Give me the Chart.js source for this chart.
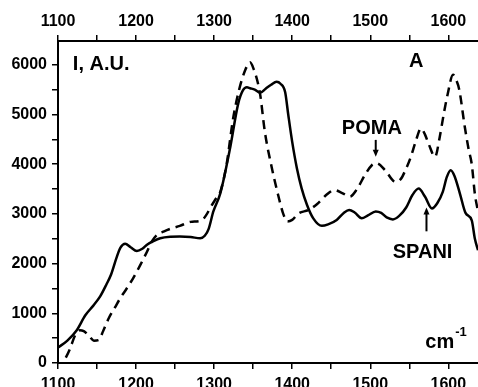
<!DOCTYPE html>
<html>
<head>
<meta charset="utf-8">
<script src="https://cdn.jsdelivr.net/npm/chart.js@4"></script>
<style>
  html, body { margin: 0; padding: 0; background: #fff; }
  #wrap { width: 478px; height: 387px; }
</style>
</head>
<body>
<div id="wrap"><canvas id="ramanChart"></canvas></div>
<script>
// Raman spectra, SPANI (solid) and POMA (dashed)
const spaniX = [1100, 1112, 1124, 1135, 1145, 1154, 1162, 1168, 1175, 1180, 1186, 1193, 1201, 1208, 1214, 1222,
  1231, 1244, 1256, 1270, 1282, 1288, 1293, 1299, 1308, 1320, 1331, 1337, 1342, 1346, 1352, 1359, 1366, 1373,
  1380, 1385, 1391, 1395, 1400, 1406, 1412, 1419, 1427, 1438, 1446, 1457, 1466, 1473, 1480, 1489, 1497, 1507,
  1514, 1521, 1529, 1537, 1546, 1554, 1562, 1570, 1579, 1586, 1593, 1598, 1603, 1608, 1615, 1622, 1630, 1634, 1638];
const spaniY = [310, 450, 660, 960, 1150, 1340, 1580, 1780, 2120, 2320, 2400, 2330, 2255, 2300, 2380, 2450,
  2510, 2540, 2545, 2535, 2510, 2560, 2700, 3050, 3420, 4290, 5230, 5490, 5550, 5530, 5500, 5440, 5520, 5600,
  5660, 5620, 5450, 4990, 4450, 3920, 3520, 3180, 2910, 2760, 2790, 2880, 3020, 3080, 3030, 2915, 2970, 3050,
  3020, 2930, 2890, 2960, 3130, 3380, 3510, 3350, 3110, 3220, 3450, 3740, 3880, 3760, 3400, 3020, 2870, 2500, 2270];

const pomaX = [1100, 1108, 1115, 1122, 1128, 1133, 1140, 1146, 1152, 1158, 1165, 1173, 1180, 1188, 1196, 1205,
  1214, 1220, 1227, 1236, 1244, 1256, 1270, 1284, 1290, 1296, 1302, 1308, 1316, 1324, 1332, 1340, 1346, 1351,
  1355, 1359, 1365, 1374, 1382, 1389, 1394, 1400, 1408, 1421, 1432, 1445, 1454, 1464, 1474, 1483, 1493, 1502,
  1508, 1519, 1532, 1539, 1545, 1552, 1558, 1565, 1570, 1575, 1583, 1589, 1594, 1599, 1606, 1610, 1614, 1621,
  1626, 1630, 1634, 1638];
const pomaY = [-150, 50, 270, 560, 660, 640, 540, 450, 460, 650, 900, 1120, 1310, 1500, 1700, 1960,
  2240, 2440, 2580, 2650, 2700, 2760, 2840, 2870, 2980, 3150, 3300, 3450, 4000, 4890, 5500, 5900, 6050, 5900,
  5700, 5400, 4650, 3920, 3380, 2980, 2850, 2880, 3010, 3080, 3200, 3400, 3480, 3420, 3350, 3500, 3780, 3980,
  4020, 3880, 3650, 3700, 3880, 4150, 4450, 4720, 4600, 4400, 4150, 4550, 5000, 5400, 5800, 5700, 5500, 4760,
  4300, 4000, 3400, 3050];

// tick positions (labels only on the round ones)
const xTickValues = [1100, 1150, 1200, 1250, 1300, 1350, 1400, 1450, 1500, 1550, 1600];
const yTickValues = [0, 500, 1000, 1500, 2000, 2500, 3000, 3500, 4000, 4500, 5000, 5500, 6000];

const xMin = 1100, xMax = 1638;
const yMin = 0, yMax = 6480;

const FONT = "'Liberation Sans', Arial, sans-serif";
Chart.defaults.font.family = FONT;
Chart.defaults.font.weight = 'bold';
Chart.defaults.font.size = 16;
Chart.defaults.color = '#000';

function toPoints(xs, ys) {
  return xs.map((x, i) => ({ x: x, y: ys[i] }));
}

// text labels and arrows, placed in data units
const notes = [
  { text: 'I, A.U.', x: 1119, y: 6000, align: 'left' },
  { text: 'A', x: 1559, y: 6060, align: 'center' },
  { text: 'POMA', x: 1502, y: 4710, align: 'center' },
  { text: 'SPANI', x: 1567, y: 2234, align: 'center' }
];
const arrows = [
  { x: 1507, from: 4490, to: 4150 },
  { x: 1572, from: 2650, to: 3130 }
];

const notesPlugin = {
  id: 'notes',
  afterDatasetsDraw(chart) {
    const c = chart.ctx;
    const xs = chart.scales.x, ys = chart.scales.y;
    c.save();
    c.fillStyle = '#000';
    c.strokeStyle = '#000';
    c.font = 'bold 20px ' + FONT;
    c.textBaseline = 'middle';
    notes.forEach(n => {
      c.textAlign = n.align;
      c.fillText(n.text, xs.getPixelForValue(n.x), ys.getPixelForValue(n.y));
    });
    // cm-1
    c.textAlign = 'left';
    c.textBaseline = 'alphabetic';
    const cx = xs.getPixelForValue(1570.5), cy = ys.getPixelForValue(300);
    c.fillText('cm', cx, cy);
    const w = c.measureText('cm').width;
    c.font = 'bold 13px ' + FONT;
    c.fillText('-1', cx + w + 1, cy - 12);
    // arrows
    c.lineWidth = 2;
    arrows.forEach(a => {
      const px = xs.getPixelForValue(a.x);
      const y0 = ys.getPixelForValue(a.from), y1 = ys.getPixelForValue(a.to);
      const dir = y1 > y0 ? 1 : -1;
      c.beginPath();
      c.moveTo(px, y0);
      c.lineTo(px, y1 - dir * 5);
      c.stroke();
      c.beginPath();
      c.moveTo(px, y1);
      c.lineTo(px - 3, y1 - dir * 7);
      c.lineTo(px + 3, y1 - dir * 7);
      c.closePath();
      c.fill();
    });
    c.restore();
  }
};

const axisGrid = {
  drawOnChartArea: false,
  drawTicks: true,
  tickLength: 6,
  color: '#000',
  lineWidth: 1.5
};
const axisBorder = { display: true, color: '#000', width: 2 };

function setTicks(values) {
  return s => { s.ticks = values.map(v => ({ value: v })); };
}

const ctx = document.getElementById('ramanChart').getContext('2d');
const ramanChart = new Chart(ctx, {
  type: 'line',
  data: {
    datasets: [
      {
        label: 'SPANI',
        data: toPoints(spaniX, spaniY),
        borderColor: '#000',
        borderWidth: 2.5,
        pointRadius: 0,
        cubicInterpolationMode: 'monotone',
        fill: false
      },
      {
        label: 'POMA',
        data: toPoints(pomaX, pomaY),
        borderColor: '#000',
        borderWidth: 2.5,
        borderDash: [9, 6],
        pointRadius: 0,
        cubicInterpolationMode: 'monotone',
        fill: false
      }
    ]
  },
  options: {
    responsive: true,
    maintainAspectRatio: false,
    animation: false,
    layout: { padding: 0 },
    plugins: {
      legend: { display: false },
      tooltip: { enabled: false }
    },
    scales: {
      x: {
        type: 'linear',
        position: 'bottom',
        min: xMin,
        max: xMax,
        grid: axisGrid,
        border: axisBorder,
        afterBuildTicks: setTicks(xTickValues),
        ticks: {
          autoSkip: false,
          maxRotation: 0,
          padding: 6,
          callback: v => (v % 100 === 0 ? v : '')
        },
        afterFit: s => { s.height = 24; }
      },
      x2: {
        type: 'linear',
        position: 'top',
        min: xMin,
        max: xMax,
        grid: axisGrid,
        border: axisBorder,
        afterBuildTicks: setTicks(xTickValues),
        ticks: {
          autoSkip: false,
          maxRotation: 0,
          padding: 4,
          callback: v => (v % 100 === 0 ? v : '')
        },
        afterFit: s => { s.height = 41; }
      },
      y: {
        type: 'linear',
        position: 'left',
        min: yMin,
        max: yMax,
        grid: axisGrid,
        border: axisBorder,
        afterBuildTicks: setTicks(yTickValues),
        ticks: {
          autoSkip: false,
          padding: 5,
          callback: v => (v % 1000 === 0 ? v : '')
        },
        afterFit: s => { s.width = 58; }
      }
    }
  },
  plugins: [notesPlugin]
});
</script>
</body>
</html>
